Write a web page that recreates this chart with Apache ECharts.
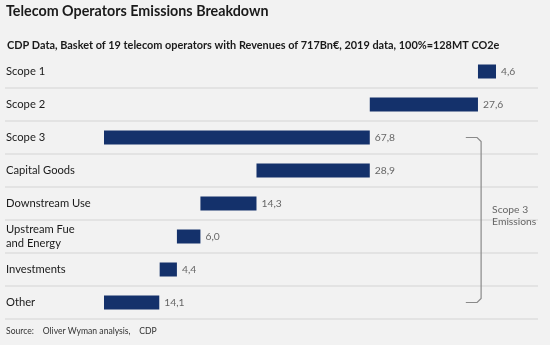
<!DOCTYPE html>
<html><head><meta charset="utf-8">
<script src="https://cdn.jsdelivr.net/npm/echarts@6/dist/echarts.min.js"></script>
<style>html,body{margin:0;padding:0;background:#f2f2f2;}#c{width:550px;height:345px;}</style>
</head><body><div id="c"></div>
<script>
const categories = ['Scope 1','Scope 2','Scope 3','Capital Goods','Downstream Use','Upstream Fue\nand Energy','Investments','Other'];
const values = [4.6, 27.6, 67.8, 28.9, 14.3, 6.0, 4.4, 14.1];
const axisMax = 100;

// waterfall bases derived from values
const bases = new Array(values.length).fill(0);
bases[2] = 0;
bases[1] = values[2];
bases[0] = values[2] + values[1];
let running = values[2];
for (let i = 3; i <= 6; i++) { running -= values[i]; bases[i] = running; }
bases[7] = 0;

const FONT = 'Lato, "Open Sans", sans-serif';
const chart = echarts.init(document.getElementById('c'));
const n = categories.length;
chart.setOption({
  backgroundColor: '#f2f2f2',
  animation: false,
  title: [
    {text: 'Telecom Operators Emissions Breakdown', left: 6, top: 4, padding: 0,
     textStyle: {fontFamily: FONT, fontSize: 14.3, fontWeight: 'bold', color: '#1a1a1a'}},
    {text: 'CDP Data, Basket of 19 telecom operators with Revenues of 717Bn€, 2019 data, 100%=128MT CO2e', left: 7, top: 40, padding: 0,
     textStyle: {fontFamily: FONT, fontSize: 10.9, fontWeight: 'bold', color: '#1a1a1a'}},
    {text: 'Source:    Oliver Wyman analysis,    CDP', left: 6, top: 327, padding: 0,
     textStyle: {fontFamily: FONT, fontSize: 8.6, fontWeight: 'normal', color: '#333'}}
  ],
  grid: [
    {left: 104, right: 54, top: 55, height: 264},
    {left: 5, right: 12, top: 55, height: 264}
  ],
  xAxis: [
    {gridIndex: 0, type: 'value', min: 0, max: axisMax, show: false},
    {gridIndex: 1, type: 'value', min: 0, max: 1, show: false}
  ],
  yAxis: [
    {gridIndex: 0, type: 'category', data: categories, inverse: true, show: false},
    {gridIndex: 1, type: 'category', data: categories, inverse: true,
     axisLine: {show: false}, axisTick: {show: false},
     axisLabel: {inside: true, align: 'left', margin: 1, fontFamily: FONT, fontSize: 11.2, color: '#1a1a1a', lineHeight: 14},
     splitLine: {show: true, interval: function (i) { return i > 0 && i < n; }, lineStyle: {color: '#dedede', width: 1.5}}}
  ],
  series: [
    {type: 'bar', xAxisIndex: 0, yAxisIndex: 0, stack: 'w', data: bases, barWidth: 14,
     itemStyle: {color: 'transparent'}, silent: true},
    {type: 'bar', xAxisIndex: 0, yAxisIndex: 0, stack: 'w', data: values, barWidth: 14,
     itemStyle: {color: '#14316b'},
     label: {show: true, position: 'right', distance: 5, fontFamily: FONT, fontSize: 10.3, color: '#666',
       formatter: p => p.value.toFixed(1).replace('.', ',')}}
  ]
});

// bracket annotation positioned through the axes
const yTop = chart.convertToPixel({yAxisIndex: 0}, categories[2]);
const yBot = chart.convertToPixel({yAxisIndex: 0}, categories[7]);
const xA = chart.convertToPixel({xAxisIndex: 0}, 92.3);
const xB = chart.convertToPixel({xAxisIndex: 0}, 96.2);
const r = 4;
chart.setOption({
  graphic: [
    {type: 'polyline', shape: {points: [[xA, yTop], [xB - r, yTop], [xB, yTop + r], [xB, yBot - r], [xB - r, yBot], [xA, yBot]]},
     style: {stroke: '#8a8a8a', lineWidth: 1.2, fill: null}},
    {type: 'text', left: xB + 11, top: (yTop + yBot) / 2 - 16,
     style: {text: 'Scope 3\nEmissions', fontFamily: FONT, fontSize: 10.3, lineHeight: 12, fill: '#666'}}
  ]
});
</script></body></html>
